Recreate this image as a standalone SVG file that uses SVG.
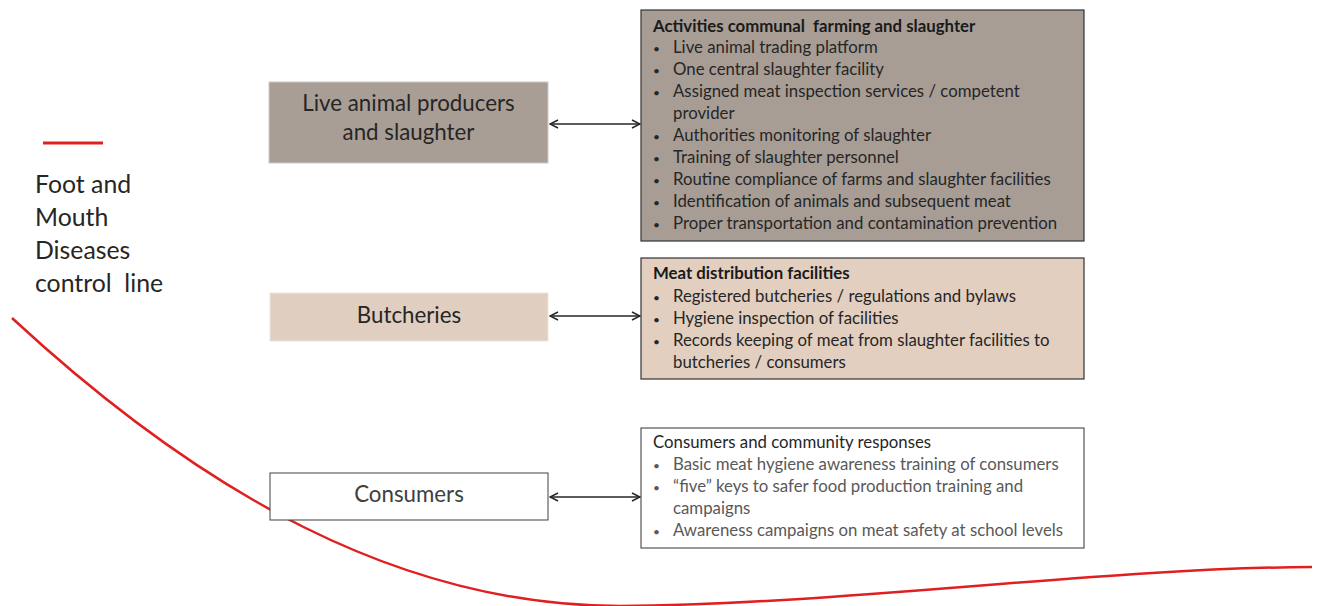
<svg xmlns="http://www.w3.org/2000/svg" width="1320" height="606" viewBox="0 0 1320 606">
<style>
text{font-family:Lato,"Liberation Sans",sans-serif;}
.lbl{font-size:22.3px;fill:#262626;text-anchor:middle;}
.t{font-size:16.8px;fill:#262626;}
.tb{font-size:16.8px;fill:#1a1a1a;font-weight:bold;}
.tl{font-size:16.8px;fill:#595959;}
.tlh{font-size:16.8px;fill:#262626;}
.bul{font-size:12px;}
.side{font-size:24.8px;fill:#262626;}
.conn{stroke:#262626;stroke-width:1.5;fill:none;marker-start:url(#ah);marker-end:url(#ah);}
</style>
<defs>
<marker id="ah" viewBox="0 0 10 10" refX="9" refY="5" markerWidth="10" markerHeight="10" markerUnits="userSpaceOnUse" orient="auto-start-reverse">
<path d="M1,1 L9,5 L1,9" fill="none" stroke="#262626" stroke-width="1.5"/>
</marker>
</defs>
<rect width="1320" height="606" fill="#ffffff"/>
<g id="legend">
<line x1="43" y1="143" x2="103" y2="143" stroke="#e02020" stroke-width="3"/>
<text class="side" x="35" y="193">Foot and</text>
<text class="side" x="35" y="226">Mouth</text>
<text class="side" x="35" y="259">Diseases</text>
<text class="side" x="35" y="292" xml:space="preserve">control  line</text>
</g>
<g id="fmd-line">
<path d="M12,318 C200,492 400,606 620,606 C850,604 1100,568 1312,567" fill="none" stroke="#e02020" stroke-width="2.5"/>
</g>
<g id="node-producers">
<rect x="269" y="82" width="279" height="81" fill="#a99e95" stroke="#cfc8c2" stroke-width="1"/>
<text class="lbl" x="408.5" y="111">Live animal producers</text>
<text class="lbl" x="408.5" y="140">and slaughter</text>
</g>
<g id="node-butcheries">
<rect x="270" y="293" width="278" height="48" fill="#e0cfc0" stroke="#ece3db" stroke-width="1"/>
<text class="lbl" x="409" y="323">Butcheries</text>
</g>
<g id="node-consumers">
<rect x="270" y="473" width="278" height="47" fill="#ffffff" stroke="#404040" stroke-width="1"/>
<text class="lbl" x="409" y="502" style="fill:#404040">Consumers</text>
</g>
<g id="node-activities">
<rect x="641" y="10" width="443" height="231" fill="#a79d95" stroke="#333333" stroke-width="1.2"/>
<text class="tb" x="653" y="32" xml:space="preserve">Activities communal  farming and slaughter</text>
<text class="t bul" x="653" y="53">•</text><text class="t" x="673" y="53">Live animal trading platform</text>
<text class="t bul" x="653" y="75">•</text><text class="t" x="673" y="75">One central slaughter facility</text>
<text class="t bul" x="653" y="97">•</text><text class="t" x="673" y="97">Assigned meat inspection services / competent</text>
<text class="t" x="673" y="119">provider</text>
<text class="t bul" x="653" y="141">•</text><text class="t" x="673" y="141">Authorities monitoring of slaughter</text>
<text class="t bul" x="653" y="163">•</text><text class="t" x="673" y="163">Training of slaughter personnel</text>
<text class="t bul" x="653" y="185">•</text><text class="t" x="673" y="185">Routine compliance of farms and slaughter facilities</text>
<text class="t bul" x="653" y="207">•</text><text class="t" x="673" y="207">Identification of animals and subsequent meat</text>
<text class="t bul" x="653" y="229">•</text><text class="t" x="673" y="229">Proper transportation and contamination prevention</text>
</g>
<g id="node-distribution">
<rect x="641" y="258" width="443" height="121" fill="#e2cfc0" stroke="#333333" stroke-width="1.2"/>
<text class="tb" x="653" y="279">Meat distribution facilities</text>
<text class="t bul" x="653" y="302">•</text><text class="t" x="673" y="302">Registered butcheries / regulations and bylaws</text>
<text class="t bul" x="653" y="324">•</text><text class="t" x="673" y="324">Hygiene inspection of facilities</text>
<text class="t bul" x="653" y="346">•</text><text class="t" x="673" y="346">Records keeping of meat from slaughter facilities to</text>
<text class="t" x="673" y="368">butcheries / consumers</text>
</g>
<g id="node-community">
<rect x="641" y="428" width="443" height="120" fill="#ffffff" stroke="#333333" stroke-width="1"/>
<text class="tlh" x="653" y="448">Consumers and community responses</text>
<text class="tl bul" x="653" y="470">•</text><text class="tl" x="673" y="470">Basic meat hygiene awareness training of consumers</text>
<text class="tl bul" x="653" y="492">•</text><text class="tl" x="673" y="492">“five” keys to safer food production training and</text>
<text class="tl" x="673" y="514">campaigns</text>
<text class="tl bul" x="653" y="536">•</text><text class="tl" x="673" y="536">Awareness campaigns on meat safety at school levels</text>
</g>
<g id="connectors">
<line class="conn" x1="550" y1="124" x2="640" y2="124"/>
<line class="conn" x1="550" y1="316" x2="640" y2="316"/>
<line class="conn" x1="550" y1="497" x2="640" y2="497"/>
</g>
</svg>
